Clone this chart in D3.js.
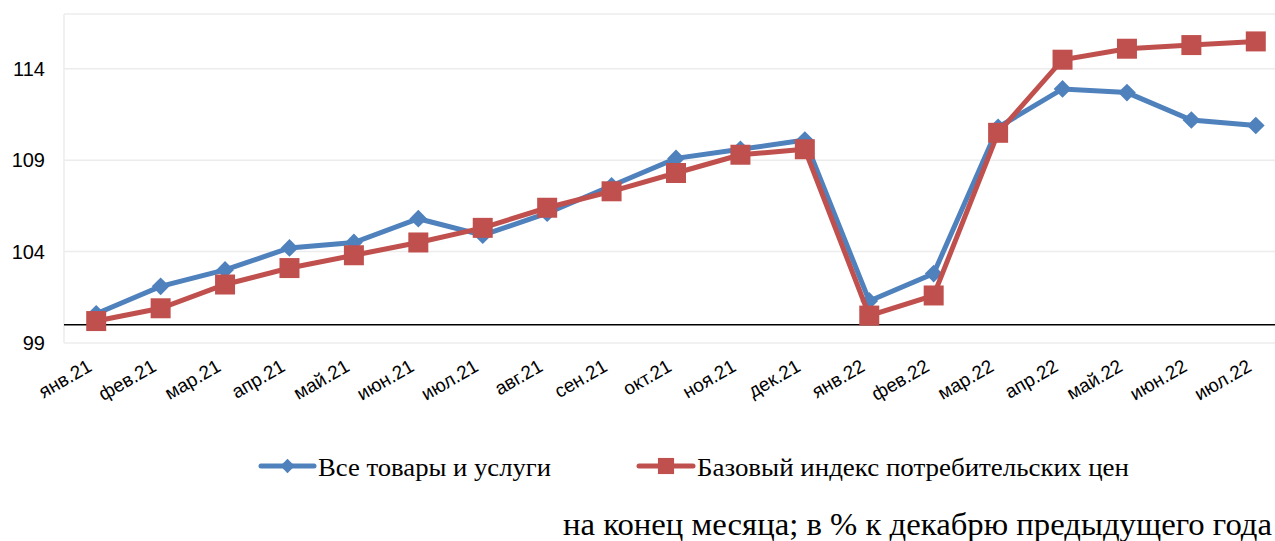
<!DOCTYPE html>
<html>
<head>
<meta charset="utf-8">
<script src="https://cdn.jsdelivr.net/npm/d3@7"></script>
<style>
	body { margin: 0; background: #fff; }
	svg { display: block; }
</style>
</head>
<body>
<div id="chart"></div>
<script>
'use strict';

const months = ["янв.21", "фев.21", "мар.21", "апр.21", "май.21", "июн.21", "июл.21", "авг.21", "сен.21",
	"окт.21", "ноя.21", "дек.21", "янв.22", "фев.22", "мар.22", "апр.22", "май.22", "июн.22", "июл.22"];

const allGoods = [100.6, 102.1, 103.0, 104.2, 104.5, 105.8, 104.9, 106.1, 107.6,
	109.1, 109.6, 110.1, 101.3, 102.8, 110.8, 112.9, 112.7, 111.2, 110.9];

const coreCpi = [100.2, 100.9, 102.2, 103.1, 103.8, 104.5, 105.3, 106.4, 107.3,
	108.3, 109.3, 109.6, 100.5, 101.6, 110.5, 114.5, 115.1, 115.3, 115.5];

const yTicks = [99, 104, 109, 114];
const seriesNames = ["Все товары и услуги", "Базовый индекс потребительских цен"];
const note = "на конец месяца; в % к декабрю предыдущего года";

const blue = "#4f81bd";
const red  = "#c0504d";
const sans  = "Liberation Sans, Arial, sans-serif";
const serif = "Liberation Serif, Times New Roman, serif";

const drawChart = () =>
{
	const W = 1275, H = 541;
	const left = 64, right = 1288, top = 14, bottom = 343;

	const svg = d3.select("#chart")
		.append("svg")
		.attr("width", W)
		.attr("height", H);

	const x = d3.scaleBand().domain(months).range([left, right]);
	const y = d3.scaleLinear().domain([99, 117]).range([bottom, top]);
	const cx = d => x(d) + x.bandwidth() / 2;

	// grid
	svg.append("g")
		.selectAll("line")
		.data(yTicks.concat([117]))
		.enter()
			.append("line")
			.attr("x1", left).attr("x2", right)
			.attr("y1", d => y(d)).attr("y2", d => y(d))
			.attr("stroke", "#ececec")
			.attr("stroke-width", 1.5);

	svg.append("line")
		.attr("x1", left).attr("x2", left)
		.attr("y1", top).attr("y2", bottom)
		.attr("stroke", "#ececec")
		.attr("stroke-width", 1.5);

	// y axis
	const yAxis = svg.append("g")
		.attr("transform", "translate(" + left + ",0)")
		.call(d3.axisLeft(y).tickValues(yTicks).tickSize(0).tickPadding(19));
	yAxis.select(".domain").remove();
	yAxis.selectAll("text")
		.style("font-family", sans)
		.style("font-size", "20px")
		.attr("fill", "#000");

	// x axis
	const xAxis = svg.append("g")
		.attr("transform", "translate(0," + bottom + ")")
		.call(d3.axisBottom(x).tickSize(0));
	xAxis.select(".domain").remove();
	xAxis.selectAll("text")
		.style("font-family", sans)
		.style("font-size", "19px")
		.attr("fill", "#000")
		.style("text-anchor", "end")
		.attr("x", 0).attr("y", 0).attr("dy", 0)
		.attr("transform", "translate(-3,27) rotate(-30)");

	// reference line at 100
	svg.append("line")
		.attr("x1", left).attr("x2", right)
		.attr("y1", y(100)).attr("y2", y(100))
		.attr("stroke", "#000")
		.attr("stroke-width", 1.5);

	const line = d3.line()
		.x((d, i) => cx(months[i]))
		.y(d => y(d));

	const diamond = d3.symbol().type(d3.symbolDiamond2).size(200);
	const square  = d3.symbol().type(d3.symbolSquare).size(400);

	svg.append("path")
		.datum(allGoods)
		.attr("d", line)
		.attr("fill", "none")
		.attr("stroke", blue)
		.attr("stroke-width", 5);

	svg.append("g")
		.selectAll("path")
		.data(allGoods)
		.enter()
			.append("path")
			.attr("d", diamond)
			.attr("transform", (d, i) => "translate(" + cx(months[i]) + "," + y(d) + ")")
			.attr("fill", blue);

	svg.append("path")
		.datum(coreCpi)
		.attr("d", line)
		.attr("fill", "none")
		.attr("stroke", red)
		.attr("stroke-width", 5);

	svg.append("g")
		.selectAll("path")
		.data(coreCpi)
		.enter()
			.append("path")
			.attr("d", square)
			.attr("transform", (d, i) => "translate(" + cx(months[i]) + "," + y(d) + ")")
			.attr("fill", red);

	// legend
	const legendY = 466;
	const legend = [
		{ name: seriesNames[0], color: blue, x0: 261, x1: 314, sym: d3.symbol().type(d3.symbolDiamond2).size(130), tx: 318, len: 233 },
		{ name: seriesNames[1], color: red,  x0: 639, x1: 693, sym: d3.symbol().type(d3.symbolSquare).size(260),  tx: 697, len: 432 }
	];
	legend.forEach(l =>
	{
		svg.append("line")
			.attr("x1", l.x0).attr("x2", l.x1)
			.attr("y1", legendY).attr("y2", legendY)
			.attr("stroke", l.color)
			.attr("stroke-width", 5)
			.attr("stroke-linecap", "round");
		svg.append("path")
			.attr("d", l.sym)
			.attr("transform", "translate(" + (l.x0 + l.x1) / 2 + "," + legendY + ")")
			.attr("fill", l.color);
		svg.append("text")
			.attr("x", l.tx)
			.attr("y", 476)
			.attr("textLength", l.len)
			.attr("lengthAdjust", "spacingAndGlyphs")
			.style("font-family", serif)
			.style("font-size", "26px")
			.text(l.name);
	});

	svg.append("text")
		.attr("x", 563)
		.attr("y", 535)
		.attr("textLength", 709)
		.attr("lengthAdjust", "spacingAndGlyphs")
		.style("font-family", serif)
		.style("font-size", "32px")
		.text(note);
};

document.addEventListener("DOMContentLoaded", () =>
{
	drawChart();
}, false);
</script>
</body>
</html>
